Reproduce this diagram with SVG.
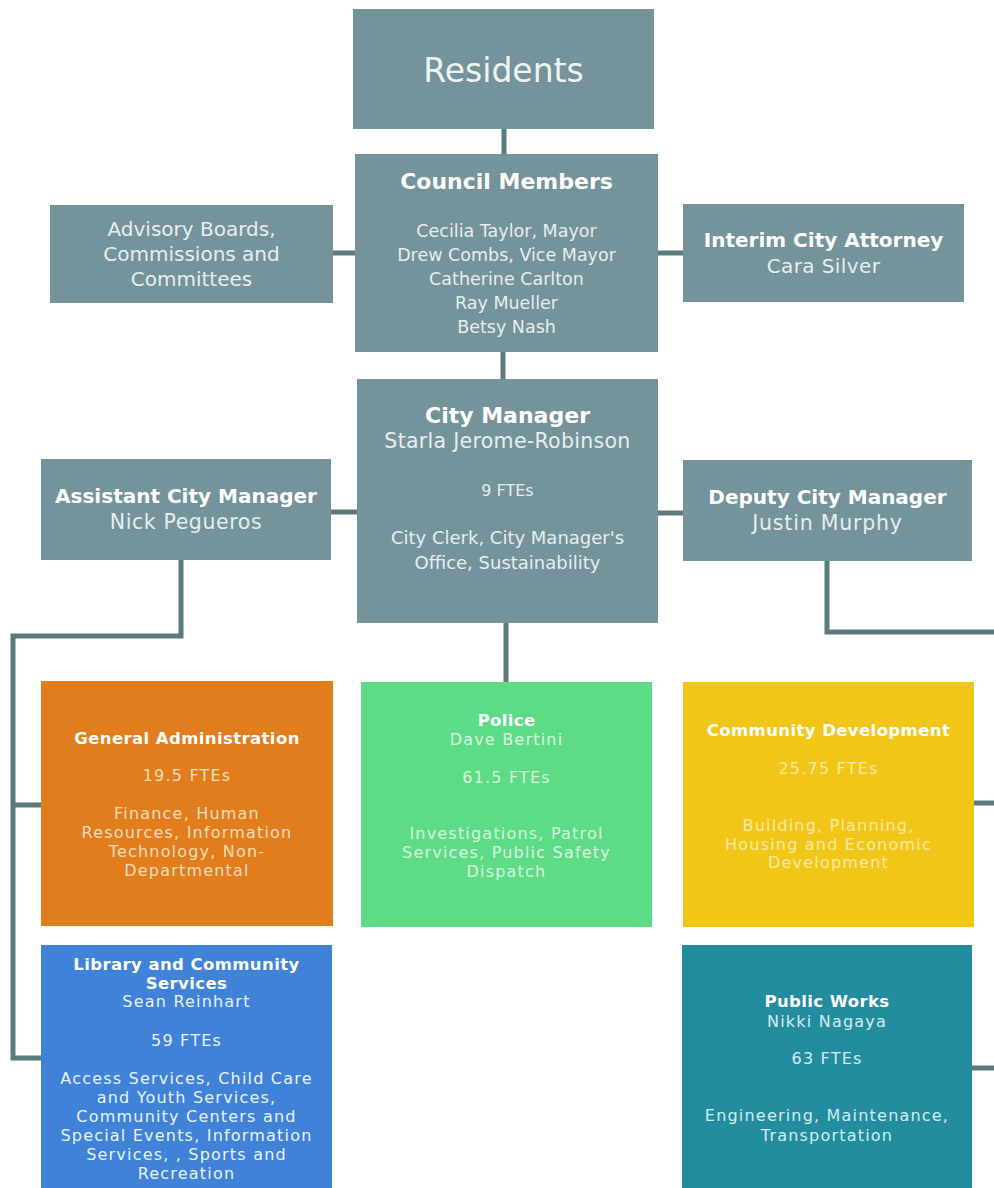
<svg xmlns="http://www.w3.org/2000/svg" width="994" height="1188" viewBox="0 0 994 1188">
<style>
text{font-family:"DejaVu Sans","Noto Sans",sans-serif;text-anchor:middle}
.g{fill:#74939a}
.t{fill:#ffffff;font-weight:700}
.b{fill:#e8eeef}
.dt{fill:#ffffff;font-weight:700;font-size:16.5px;letter-spacing:0.4px}
.d{font-size:16px;letter-spacing:1.2px}
.c{fill:none;stroke:#5b7a7c;stroke-width:5}
</style>
<rect width="994" height="1188" fill="#ffffff"/>
<g id="connectors">
<path class="c" d="M504,129 V154"/>
<path class="c" d="M333,253 H355"/>
<path class="c" d="M658,253 H683"/>
<path class="c" d="M503,352 V379"/>
<path class="c" d="M331,512 H357"/>
<path class="c" d="M658,513 H683"/>
<path class="c" d="M506,623 V682"/>
<path class="c" d="M181,560 V636 H13 V1058 H41"/>
<path class="c" d="M13,805 H41"/>
<path class="c" d="M827,561 V632 H999 V1068 H972"/>
<path class="c" d="M974,803 H999"/>
</g>
<g id="residents">
<rect class="g" x="353" y="9" width="301" height="120"/>
<text x="503.5" y="82" font-size="33" fill="#eef3f3">Residents</text>
</g>
<g id="council">
<rect class="g" x="355" y="154" width="303" height="198"/>
<text class="t" x="506.5" y="189" font-size="22">Council Members</text>
<text class="b" font-size="17.5"><tspan x="506.5" y="237">Cecilia Taylor, Mayor</tspan><tspan x="506.5" y="261">Drew Combs, Vice Mayor</tspan><tspan x="506.5" y="285">Catherine Carlton</tspan><tspan x="506.5" y="309">Ray Mueller</tspan><tspan x="506.5" y="333">Betsy Nash</tspan></text>
</g>
<g id="advisory">
<rect class="g" x="50" y="205" width="283" height="98"/>
<text class="b" font-size="20"><tspan x="191.5" y="236">Advisory Boards,</tspan><tspan x="191.5" y="261">Commissions and</tspan><tspan x="191.5" y="286">Committees</tspan></text>
</g>
<g id="attorney">
<rect class="g" x="683" y="204" width="281" height="98"/>
<text class="t" x="823.5" y="247" font-size="20">Interim City Attorney</text>
<text class="b" x="823.5" y="273" font-size="20" letter-spacing="0.4">Cara Silver</text>
</g>
<g id="citymanager">
<rect class="g" x="357" y="379" width="301" height="244"/>
<text class="t" x="507.5" y="423" font-size="22">City Manager</text>
<text class="b" x="507.5" y="448" font-size="20.5" letter-spacing="0.3">Starla Jerome-Robinson</text>
<text class="b" x="507.5" y="496" font-size="16">9 FTEs</text>
<text class="b" font-size="18"><tspan x="507.5" y="544">City Clerk, City Manager's</tspan><tspan x="507.5" y="569">Office, Sustainability</tspan></text>
</g>
<g id="assistant">
<rect class="g" x="41" y="459" width="290" height="101"/>
<text class="t" x="186" y="503" font-size="20">Assistant City Manager</text>
<text class="b" x="186" y="529" font-size="20.5" letter-spacing="0.6">Nick Pegueros</text>
</g>
<g id="deputy">
<rect class="g" x="683" y="460" width="289" height="101"/>
<text class="t" x="827.5" y="504" font-size="20">Deputy City Manager</text>
<text class="b" x="827.5" y="530" font-size="20.5" letter-spacing="0.8">Justin Murphy</text>
</g>
<g id="genadmin">
<rect x="41" y="681" width="292" height="245" fill="#e27d1e"/>
<text class="dt" x="187" y="744">General Administration</text>
<text class="d" x="187" y="781" fill="#f9dcbc" letter-spacing="0.5">19.5 FTEs</text>
<text class="d" fill="#f9dcbc"><tspan x="187" y="819">Finance, Human</tspan><tspan x="187" y="838">Resources, Information</tspan><tspan x="187" y="857">Technology, Non-</tspan><tspan x="187" y="876">Departmental</tspan></text>
</g>
<g id="police">
<rect x="361" y="682" width="291" height="245" fill="#5edb85"/>
<text class="dt" x="506.5" y="726">Police</text>
<text class="d" x="506.5" y="745" fill="#d7f7e0">Dave Bertini</text>
<text class="d" x="506.5" y="783" fill="#d7f7e0" letter-spacing="0.5">61.5 FTEs</text>
<text class="d" fill="#d7f7e0"><tspan x="506.5" y="839">Investigations, Patrol</tspan><tspan x="506.5" y="858">Services, Public Safety</tspan><tspan x="506.5" y="877">Dispatch</tspan></text>
</g>
<g id="commdev">
<rect x="683" y="682" width="291" height="245" fill="#f2c618"/>
<text class="dt" x="828.5" y="736" letter-spacing="0.6">Community Development</text>
<text class="d" x="828.5" y="774" fill="#faeaa6" letter-spacing="0.5">25.75 FTEs</text>
<text class="d" fill="#faeaa6"><tspan x="828.5" y="831">Building, Planning,</tspan><tspan x="828.5" y="850">Housing and Economic</tspan><tspan x="828.5" y="868">Development</tspan></text>
</g>
<g id="library">
<rect x="41" y="945" width="291" height="250" fill="#3f82d8"/>
<text class="dt"><tspan x="186.5" y="970">Library and Community</tspan><tspan x="186.5" y="989">Services</tspan></text>
<text class="d" x="186.5" y="1007" fill="#eaf2fb">Sean Reinhart</text>
<text class="d" x="186.5" y="1046" fill="#eaf2fb" letter-spacing="0.5">59 FTEs</text>
<text class="d" fill="#eaf2fb"><tspan x="186.5" y="1084">Access Services, Child Care</tspan><tspan x="186.5" y="1103">and Youth Services,</tspan><tspan x="186.5" y="1122">Community Centers and</tspan><tspan x="186.5" y="1141">Special Events, Information</tspan><tspan x="186.5" y="1160">Services, , Sports and</tspan><tspan x="186.5" y="1179">Recreation</tspan></text>
</g>
<g id="publicworks">
<rect x="682" y="945" width="290" height="250" fill="#238c9e"/>
<text class="dt" x="827" y="1007" font-size="17">Public Works</text>
<text class="d" x="827" y="1027" fill="#d2eef2">Nikki Nagaya</text>
<text class="d" x="827" y="1064" fill="#d2eef2" letter-spacing="0.5">63 FTEs</text>
<text class="d" fill="#d2eef2"><tspan x="827" y="1121">Engineering, Maintenance,</tspan><tspan x="827" y="1141">Transportation</tspan></text>
</g>
</svg>
